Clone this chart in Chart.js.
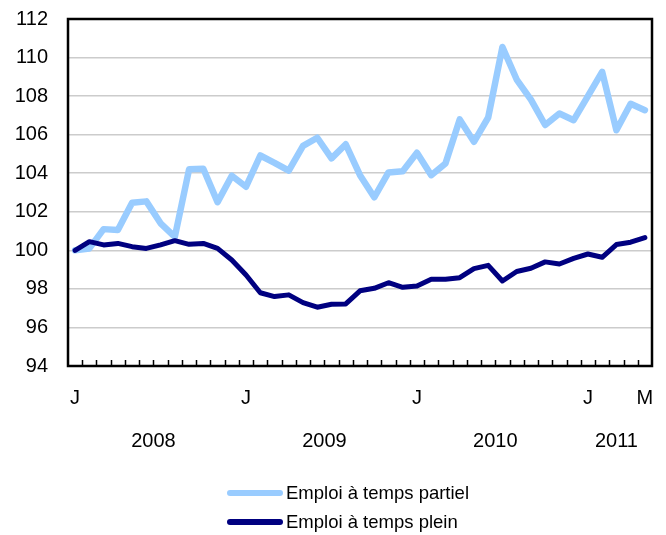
<!DOCTYPE html>
<html>
<head>
<meta charset="utf-8">
<script src="https://cdn.jsdelivr.net/npm/chart.js@4.4.0/dist/chart.umd.min.js"></script>
<style>
    body { margin: 0; background: #fff; }
    #wrap { position: relative; width: 666px; height: 535px; }
    .leg { position: absolute; left: 227px; height: 24px; display: flex; align-items: center;
           font-family: "Liberation Sans", Arial, sans-serif; font-size: 18.5px; color: #000; }
    .leg span.line { display: inline-block; width: 56px; height: 6px; border-radius: 3px; margin-right: 3px; }
</style>
</head>
<body>
<div id="wrap">
    <canvas id="chart" width="666" height="535"></canvas>
    <div class="leg" style="top:481px"><span class="line" id="sw0"></span><span id="lb0"></span></div>
    <div class="leg" style="top:510px"><span class="line" id="sw1"></span><span id="lb1"></span></div>
</div>
<script>
// janvier 2008 -> mai 2011, mensuel
const monthTicks = [
    'J','','','','','','','','','','','',
    'J','','','','','','','','','','','',
    'J','','','','','','','','','','','',
    'J','','','','M'
];
const yearNames = ['2008', '2009', '2010', '2011'];

const partTime = [
    100.0, 100.1, 101.1, 101.05, 102.47, 102.54, 101.4, 100.7, 104.2, 104.23, 102.5, 103.87,
    103.3, 104.92, 104.54, 104.13, 105.42, 105.84, 104.77, 105.5, 103.9, 102.75, 104.04, 104.1,
    105.06, 103.9, 104.5, 106.79, 105.63, 106.89, 110.55, 108.86, 107.82, 106.5, 107.1, 106.75,
    108.0, 109.26, 106.23, 107.6, 107.27
];
const fullTime = [
    100.0, 100.45, 100.28, 100.36, 100.19, 100.1, 100.28, 100.5, 100.31, 100.36, 100.1, 99.5,
    98.72, 97.8, 97.6, 97.69, 97.29, 97.05, 97.2, 97.22, 97.9, 98.03, 98.32, 98.08,
    98.15, 98.5, 98.5, 98.58, 99.05, 99.22, 98.41, 98.9, 99.07, 99.4, 99.29, 99.58,
    99.81, 99.64, 100.3, 100.42, 100.66
];

const seriesNames = ['Emploi à temps partiel', 'Emploi à temps plein'];
const seriesColors = ['#99ccff', '#000080'];

const FONT = '"Liberation Sans", Arial, sans-serif';
const NONE = 'rgba(0,0,0,0)';

// cadre, petites graduations et années
const framePlugin = {
    id: 'frame',
    beforeDatasetsDraw(chart) {
        const { ctx, chartArea: a, scales: { x } } = chart;
        ctx.save();
        ctx.strokeStyle = '#000';
        ctx.lineWidth = 1.5;
        ctx.beginPath();
        for (let i = 1; i < monthTicks.length; i++) {
            const px = (x.getPixelForValue(i - 1) + x.getPixelForValue(i)) / 2;
            ctx.moveTo(Math.round(px) + 0.5, a.bottom);
            ctx.lineTo(Math.round(px) + 0.5, a.bottom - 6);
        }
        ctx.stroke();
        ctx.lineWidth = 2.5;
        ctx.strokeRect(a.left, a.top, a.right - a.left, a.bottom - a.top);
        ctx.restore();
    },
    afterDraw(chart) {
        const { ctx, chartArea: a, scales: { x } } = chart;
        ctx.save();
        ctx.fillStyle = '#000';
        ctx.font = '20px ' + FONT;
        ctx.textAlign = 'center';
        ctx.textBaseline = 'middle';
        yearNames.forEach((y, k) => {
            const first = k * 12;
            const last = Math.min(first + 11, monthTicks.length - 1);
            const px = (x.getPixelForValue(first) + x.getPixelForValue(last)) / 2;
            ctx.fillText(y, px, a.bottom + 75);
        });
        ctx.restore();
    }
};

new Chart(document.getElementById('chart').getContext('2d'), {
    type: 'line',
    data: {
        labels: monthTicks,
        datasets: [
            {
                label: seriesNames[1],
                data: fullTime,
                borderColor: seriesColors[1],
                borderWidth: 5
            },
            {
                label: seriesNames[0],
                data: partTime,
                borderColor: seriesColors[0],
                borderWidth: 6.5
            }
        ]
    },
    options: {
        responsive: false,
        animation: false,
        layout: { padding: { top: 19, right: 14, bottom: 0, left: 0 } },
        elements: {
            point: { radius: 0 },
            line: { tension: 0, borderJoinStyle: 'round', borderCapStyle: 'round' }
        },
        scales: {
            x: {
                offset: true,
                grid: { drawOnChartArea: false, drawTicks: true, tickLength: 20, tickColor: NONE, color: NONE },
                border: { display: false },
                ticks: {
                    autoSkip: false, maxRotation: 0, padding: 0, color: '#000',
                    font: { family: FONT, size: 20 }
                },
                afterFit: s => { s.height = 169; }
            },
            y: {
                min: 94, max: 112,
                grid: {
                    color: c => (c.tick.value === 94 || c.tick.value === 112) ? NONE : '#cccccc',
                    lineWidth: 1.5,
                    drawTicks: true,
                    tickLength: 20,
                    tickColor: NONE
                },
                border: { display: false },
                ticks: {
                    stepSize: 2, padding: 0, color: '#000',
                    font: { family: FONT, size: 20 }
                },
                afterFit: s => { s.width = 68; }
            }
        },
        plugins: {
            legend: { display: false },
            tooltip: { enabled: false }
        }
    },
    plugins: [framePlugin]
});

// légende
[0, 1].forEach(i => {
    document.getElementById('sw' + i).style.background = seriesColors[i];
    document.getElementById('lb' + i).textContent = seriesNames[i];
});
</script>
</body>
</html>
